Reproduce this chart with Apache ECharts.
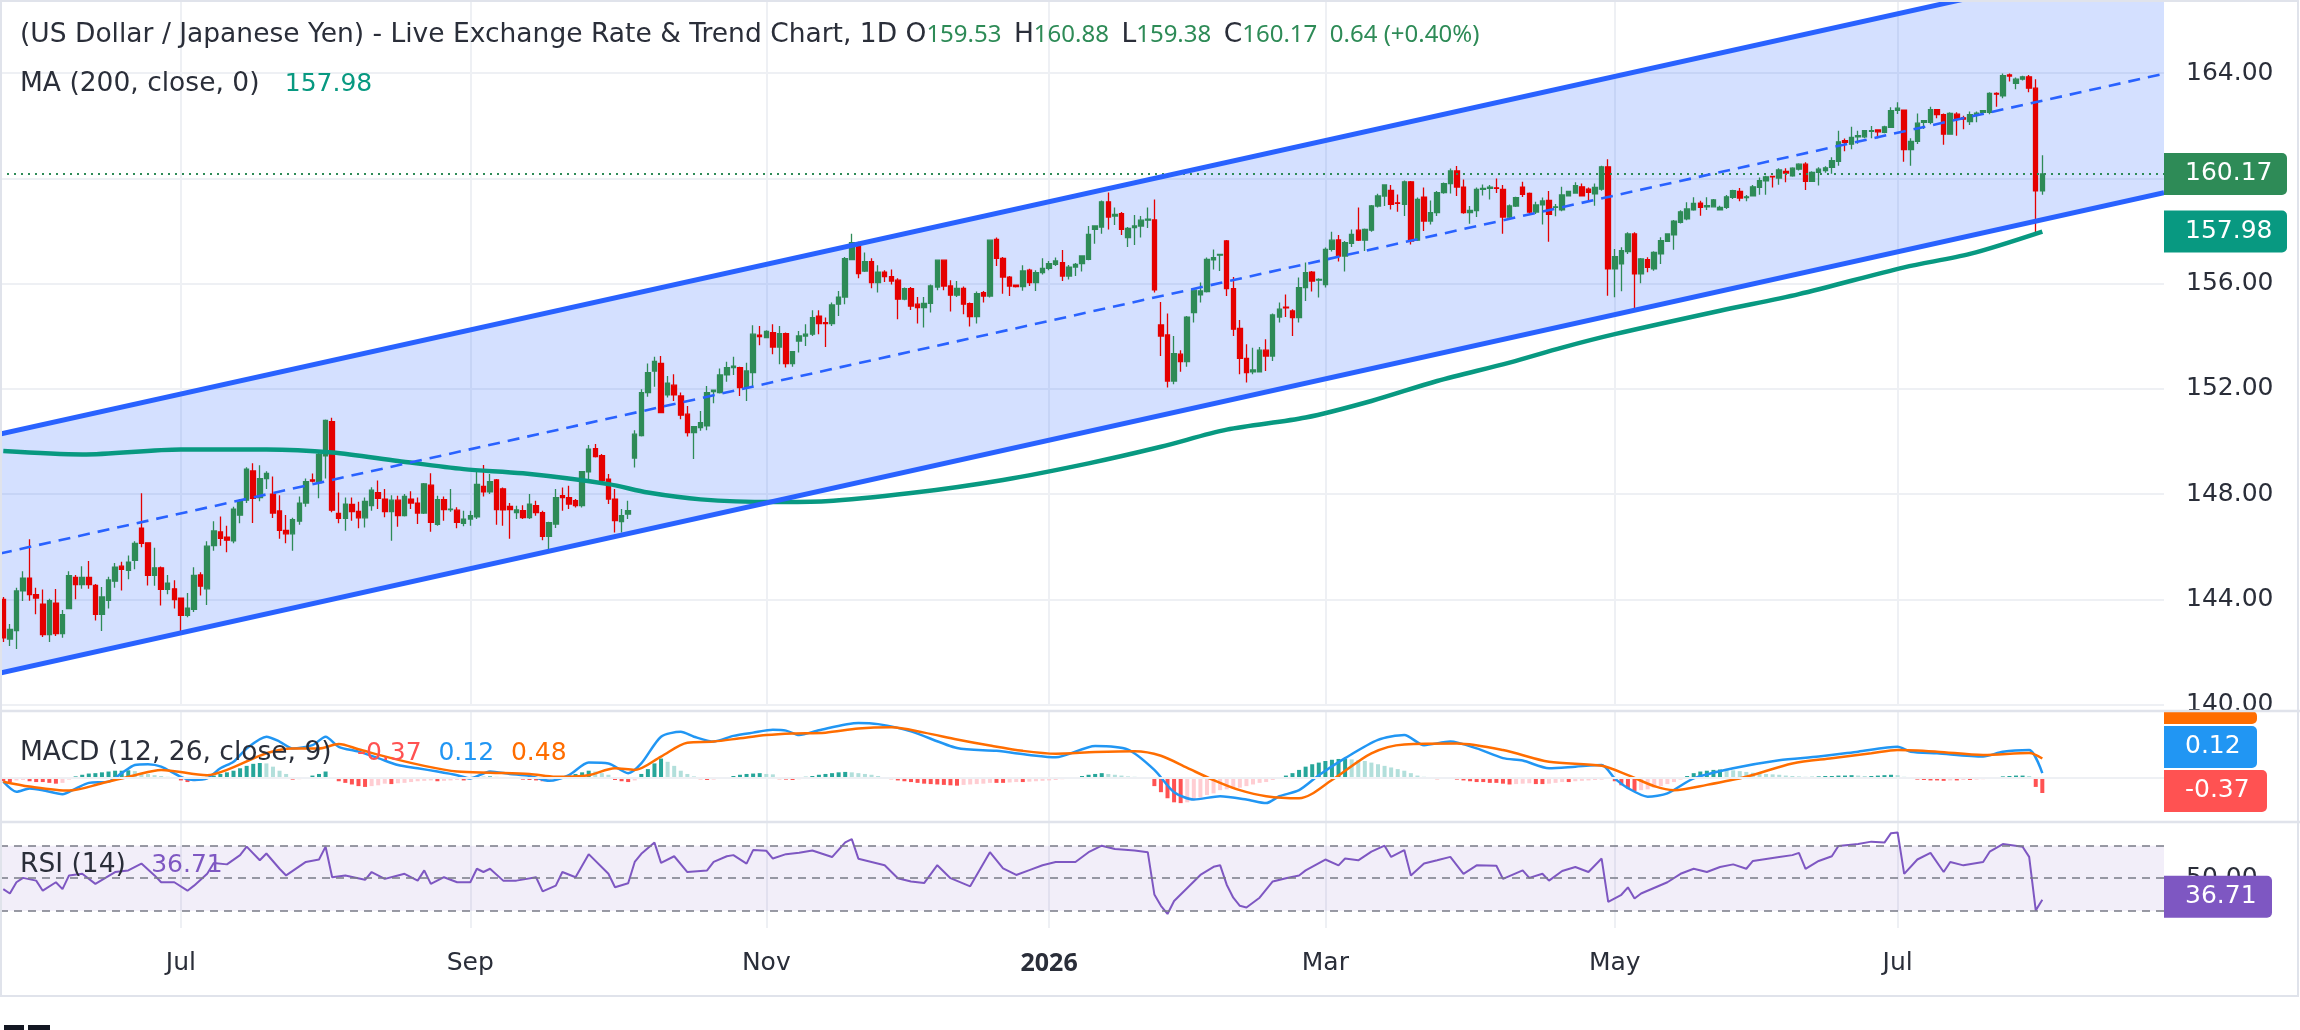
<!DOCTYPE html>
<html>
<head>
<meta charset="utf-8">
<title>USD/JPY 1D</title>
<script src="https://cdn.jsdelivr.net/npm/echarts@6/dist/echarts.min.js"></script>
<style>
html, body { margin: 0; padding: 0; background: #fff; }
#chart { width: 2300px; height: 1030px; }
</style>
</head>
<body>
<div id="chart"></div>
<script>
'use strict';

// ---- data ----
var startDate = '2025-05-23';      // first visible daily bar
var slotCount = 329;               // bars + empty space on the right
var monthNames = ['Jan', 'Feb', 'Mar', 'Apr', 'May', 'Jun', 'Jul', 'Aug', 'Sep', 'Oct', 'Nov', 'Dec'];

// daily candles: [open, close, low, high]
var candles = [
  [144.00,142.54,142.38,144.09],[142.49,142.86,142.23,143.06],[142.81,144.32,142.11,144.44],[144.32,144.81,143.94,145.07],
  [144.81,144.18,143.95,146.28],[144.18,144.05,143.43,144.44],[143.82,142.66,142.57,144.37],[142.66,143.95,142.38,144.02],
  [143.86,142.70,142.61,144.39],[142.70,143.42,142.54,143.60],[143.65,144.90,143.62,145.07],[144.83,144.56,144.00,144.93],
  [144.56,144.83,144.40,145.26],[144.83,144.56,144.40,145.46],[144.53,143.43,143.20,144.58],[143.43,144.09,142.80,144.47],
  [143.96,144.74,143.65,144.86],[144.69,145.22,144.44,145.38],[145.26,145.14,144.34,145.43],[145.10,145.41,144.76,145.67],
  [145.48,146.13,145.14,146.21],[146.71,146.13,145.98,148.03],[146.15,144.91,144.53,146.17],[144.91,145.20,144.52,145.96],
  [145.20,144.38,143.77,145.25],[144.38,144.62,144.19,144.93],[144.40,143.99,143.65,144.73],[144.05,143.39,142.67,144.05],
  [143.39,143.67,143.32,144.24],[143.62,144.91,143.52,145.22],[144.93,144.50,144.15,145.03],[144.40,146.02,143.79,146.21],
  [146.04,146.60,145.85,146.97],[146.56,146.32,146.04,147.15],[146.36,146.25,145.79,146.80],[146.22,147.43,146.13,147.52],
  [147.20,147.75,146.89,147.81],[147.77,148.95,147.66,149.02],[148.88,147.84,146.90,149.17],[147.87,148.59,147.73,149.10],
  [148.59,148.79,148.19,148.87],[148.00,147.28,147.09,148.67],[147.36,146.62,146.30,147.96],[146.62,146.49,146.13,147.21],
  [146.49,147.03,145.85,147.10],[146.97,147.66,146.84,147.91],[147.66,148.47,147.52,148.59],[148.54,148.49,148.44,148.78],
  [148.44,149.51,147.84,149.64],[149.45,150.80,148.59,150.84],[150.75,147.39,147.31,150.90],[147.27,147.08,146.89,148.06],
  [147.08,147.62,146.61,147.87],[147.61,147.34,146.99,147.87],[147.34,147.10,146.70,147.71],[147.10,147.72,146.73,147.87],
  [147.56,148.15,147.37,148.26],[148.06,147.84,147.43,148.52],[147.81,147.34,147.12,148.19],[147.34,147.77,146.23,147.96],
  [147.77,147.18,146.76,147.94],[147.18,147.91,147.15,148.00],[147.81,147.66,147.43,148.11],[147.66,147.28,146.86,147.87],
  [147.28,148.39,147.24,148.42],[148.34,146.93,146.57,148.79],[146.85,147.79,146.80,147.94],[147.79,147.41,146.99,147.91],
  [147.41,147.43,147.33,148.19],[147.39,146.93,146.70,147.50],[146.89,147.05,146.78,147.37],[147.05,147.18,146.80,147.37],
  [147.14,148.37,147.05,148.92],[148.29,148.09,147.91,149.11],[148.09,148.47,148.00,148.76],[148.54,147.41,146.84,148.57],
  [148.20,147.40,146.80,148.25],[147.53,147.41,146.30,147.66],
  // 78
  [147.30,147.40,147.05,147.56],[147.37,147.11,147.05,147.58],[147.11,147.62,147.05,148.00],[147.56,147.30,147.18,147.75],
  [147.30,146.39,146.25,147.37],[146.39,146.92,145.85,146.95],[146.86,147.87,146.71,148.19],[147.94,147.87,147.37,148.25],
  [147.87,147.62,147.43,148.32],[147.75,147.56,147.49,147.81],[147.56,148.85,147.49,148.88],[148.85,149.71,148.44,149.87],
  [149.73,149.43,149.39,149.90],[149.46,148.51,148.38,149.52],[148.57,147.81,147.62,148.76],[147.81,146.99,146.54,148.19],
  [146.96,147.18,146.54,147.43],[147.24,147.37,147.05,147.75],[149.37,150.28,149.01,150.43],[150.22,151.86,150.19,151.99],
  [151.86,152.62,151.70,152.96],[152.68,153.04,152.08,153.22],[152.97,151.10,151.10,153.25],[151.77,152.22,151.67,152.49],
  [152.14,151.77,151.54,152.56],[151.73,151.00,150.85,151.86],[151.04,150.34,150.19,151.35],[150.34,150.56,149.33,150.59],
  [150.53,150.72,150.41,151.16],[150.59,151.86,150.43,152.11],[151.90,151.95,151.45,151.97],[151.86,152.53,151.82,152.77],
  [152.53,152.81,152.27,153.03],[152.81,152.86,152.53,153.22],[152.81,152.05,151.73,152.84],[152.05,152.68,151.54,152.99],
  [152.62,154.08,152.11,154.42],[154.04,153.99,153.66,154.39],[153.95,154.18,153.95,154.23],[154.14,153.59,153.32,154.46],
  [153.59,154.10,152.94,154.39],[154.10,152.96,152.81,154.14],[152.96,153.41,152.84,153.44],[153.82,154.01,153.38,154.20],
  [154.01,154.08,153.63,154.46],[154.08,154.71,154.01,154.99],[154.76,154.48,154.08,154.99],[154.52,154.48,153.59,154.71],
  [154.48,155.19,154.39,155.28],[155.22,155.49,154.77,155.72],[155.49,156.95,155.22,157.01],[156.91,157.56,156.89,157.90],
  [157.56,156.38,156.20,157.59],[156.48,156.84,156.44,157.18],[156.84,156.04,155.82,156.96],[156.04,156.44,155.66,156.70],
  [156.44,156.27,156.06,156.51],[156.27,156.10,155.97,156.54],[156.13,155.41,154.65,156.20],[155.41,155.81,155.37,155.85],
  [155.81,155.15,155.00,155.87],[155.22,155.09,154.48,155.49],[155.09,155.25,154.33,155.49],[155.25,155.91,154.90,155.97],
  [155.87,156.89,155.75,156.92],[156.89,155.91,155.75,156.92],[155.91,155.56,154.94,156.13],[155.56,155.82,155.49,156.10],
  [155.82,155.22,154.84,155.89],[155.24,154.75,154.37,155.28],[154.75,155.62,154.48,155.70],[155.66,155.53,155.28,155.72],
  [155.53,157.65,155.47,157.68],[157.68,156.96,156.67,157.75],[156.96,156.25,155.62,157.01],[156.25,155.91,155.53,156.29],
  [155.94,155.89,155.85,155.97],[155.89,156.48,155.73,156.70],[156.51,156.04,155.91,156.57],
  // 157
  [156.04,156.42,155.72,156.51],[156.42,156.58,156.35,156.96],[156.58,156.76,156.51,156.86],[156.73,156.86,156.67,156.99],
  // 161
  [156.80,156.29,156.10,157.28],[156.29,156.63,156.16,156.71],[156.63,156.73,156.29,156.78],[156.76,157.05,156.46,157.05],
  [156.92,157.87,156.89,158.19],[158.06,158.19,157.52,158.22],[158.15,159.11,157.90,159.16],[159.11,158.53,158.06,159.46],
  [158.57,158.63,158.23,158.89],[158.66,158.06,157.85,158.72],[157.75,158.10,157.39,158.15],[158.13,158.19,157.47,158.61],
  [158.19,158.41,157.75,158.57],[158.41,158.45,158.11,158.89],[158.42,155.76,155.66,159.20],[154.43,154.01,153.25,155.30],
  [154.05,152.30,152.05,154.86],[152.30,153.34,152.18,154.01],[153.32,153.04,152.65,153.47],[153.04,154.73,152.84,154.77],
  [154.90,155.75,154.52,155.78],[155.57,155.72,155.28,156.04],[155.70,156.92,155.66,156.99],[156.90,156.99,156.54,157.30],
  [157.08,157.11,156.48,157.12],[157.62,155.81,155.53,157.66],[155.81,154.27,154.01,156.25],[154.30,153.16,152.56,154.62],
  [153.16,152.62,152.24,153.70],[152.65,152.72,152.56,153.56],[152.65,153.47,152.62,153.59],[153.47,153.25,152.68,153.89],
  [153.25,154.81,153.06,154.86],[154.73,155.03,154.52,155.28],[155.11,155.08,154.73,155.59],[154.96,154.71,154.01,155.03],
  [154.71,155.85,154.52,156.23],[155.85,156.42,155.34,156.80],[156.44,156.10,155.70,156.48],[156.13,156.16,155.47,156.20],
  [155.96,157.30,155.85,157.37],[157.30,157.65,157.22,157.97],[157.66,157.05,156.84,157.85],[157.05,157.56,156.46,157.62],
  [157.53,157.87,157.39,158.06],[158.03,157.65,157.62,158.89],[157.65,158.06,157.24,158.10],[158.03,158.95,157.97,158.99],
  [158.95,159.33,158.89,159.42],[159.33,159.75,158.95,159.77],[159.54,159.01,158.82,159.75],[159.07,159.05,158.73,159.39],
  [159.01,159.87,158.57,159.92],[159.87,157.62,157.49,159.90],[157.65,159.20,157.62,159.27],[159.29,158.38,158.00,159.65],
  [158.38,158.70,158.25,159.16],[158.70,159.46,158.57,159.52],[159.46,159.80,159.42,159.84],[159.80,160.28,159.43,160.38],
  [160.28,159.67,159.33,160.47],[159.67,158.70,158.66,159.96],[158.70,158.78,158.28,158.95],[158.78,159.58,158.53,159.65],
  [159.58,159.62,159.35,159.77],[159.62,159.67,159.20,159.75],[159.64,159.62,159.44,160.00],[159.58,158.53,157.90,159.75],
  [158.53,158.95,158.48,159.01],[158.95,159.27,158.91,159.30],[159.67,159.39,159.29,159.87],[159.43,158.72,158.61,159.46],
  [158.72,158.99,158.65,159.11],[158.99,159.14,158.25,159.27],[159.16,158.63,157.59,159.52],
  // 236
  [158.90,158.92,158.56,159.03],[158.80,159.37,158.75,159.68],[159.34,159.51,159.32,159.53],[159.44,159.72,159.44,159.85],
  [159.68,159.34,159.32,159.81],[159.59,159.47,159.13,159.65],[159.41,159.66,158.96,159.81],[159.59,160.44,159.53,160.48],
  [160.44,156.56,155.54,160.73],[156.56,157.03,155.48,157.32],[156.75,157.25,155.71,157.38],[157.22,157.89,157.13,157.95],
  [157.89,156.37,155.04,157.95],[156.37,156.94,156.01,156.97],[156.91,156.62,156.43,157.00],[156.56,157.19,156.49,157.23],
  [157.13,157.63,156.75,157.76],[157.61,157.89,157.58,157.91],[157.85,158.37,157.29,158.42],[158.33,158.73,158.29,158.79],
  [158.46,158.84,158.41,159.09],[158.80,159.05,158.77,159.28],[159.06,158.90,158.58,159.15],[158.92,158.96,158.80,159.28],
  [158.92,159.18,158.89,159.22],[158.80,158.90,158.80,158.96],[158.90,159.30,158.84,159.37],[159.28,159.53,159.22,159.57],
  [159.51,159.25,159.13,159.63],[159.27,159.30,159.13,159.37],[159.34,159.68,159.32,159.75],[159.66,159.91,159.38,160.03],
  [159.91,160.06,159.38,160.10],[160.08,160.06,159.65,160.10],[160.01,160.32,159.76,160.39],[160.27,160.20,159.85,160.39],
  [160.10,160.39,160.06,160.42],[160.35,160.54,160.30,160.58],[160.54,159.89,159.56,160.61],[159.89,160.23,159.86,160.27],
  [160.23,160.35,159.73,160.42],[160.30,160.40,160.21,160.46],[160.42,160.67,160.18,160.80],[160.65,161.39,160.48,161.81],
  [161.43,161.37,161.03,161.52],[161.30,161.56,161.11,161.96],[161.58,161.62,161.32,161.81],[161.58,161.81,161.53,161.84],
  [161.79,161.81,161.53,161.99],[161.84,161.77,161.53,161.84],[161.75,161.96,161.72,162.00],[161.94,162.57,161.92,162.70],
  [162.59,162.67,162.45,162.89],[162.59,161.09,160.63,162.62],[161.09,161.41,160.48,161.53],[161.41,162.10,161.31,162.47],
  [162.13,162.19,161.88,162.19],[162.13,162.61,162.06,162.72],[162.61,162.42,162.29,162.63],[162.42,161.68,161.28,162.47],
  [161.68,162.47,161.66,162.51],[162.44,162.25,161.62,162.51],[162.30,162.25,161.87,162.38],[162.16,162.42,162.03,162.54],
  [162.42,162.48,162.13,162.54],[162.51,162.57,162.44,162.59],[162.51,163.23,162.44,163.27],[163.23,163.20,162.72,163.27],
  [163.14,163.90,163.05,163.99],[163.93,163.89,163.68,163.99],[163.61,163.77,163.39,163.83],[163.77,163.86,163.72,163.90],
  [163.86,163.43,163.27,163.93],[163.43,159.53,157.95,163.77],[159.53,160.17,159.38,160.88]
];

// 200-day moving average, read at a number of bars
var maIdx = [0, 12, 27, 40, 50, 60, 70, 79, 92, 98, 106, 117, 125, 138, 152, 165, 176, 186, 198, 208, 218, 229, 237, 245, 261, 273, 289, 299, 310];
var maVal = [149.64, 149.51, 149.70, 149.70, 149.58, 149.26, 148.95, 148.79, 148.38, 148.06, 147.80, 147.70, 147.73, 148.04, 148.54, 149.17, 149.80, 150.45, 150.91, 151.54, 152.30, 153.00, 153.57, 154.08, 154.97, 155.60, 156.62, 157.13, 157.98];

// rising channel: lower / upper line at first and last slot
var chanIdx = [0, 328];
var chanLower = [141.23, 159.43];
var chanUpper = [150.31, 168.47];

// MACD (12, 26, 9)
var macdIdx = [0,2,4,6,9,11,13,16,18,20,22,24,27,29,31,33,35,37,40,42,44,47,49,51,54,57,60,63,66,69,71,74,77,80,83,86,89,92,95,97,100,103,105,108,111,114,117,119,121,124,130,133,138,145,151,156,160,166,171,175,178,181,185,189,192,194,197,200,204,209,213,216,220,224,228,231,235,239,243,245,247,250,253,257,263,270,276,282,288,290,294,301,304,308,310];
var macdVal = [-0.09,-0.34,-0.26,-0.30,-0.40,-0.26,-0.12,-0.09,0.12,0.32,0.34,0.28,0.03,-0.05,-0.01,0.24,0.40,0.73,1.02,0.90,0.73,0.81,1.02,0.77,0.65,0.49,0.32,0.24,0.16,0.07,-0.01,0.16,0.10,0.05,-0.07,0.07,0.38,0.36,0.12,0.36,1.02,1.14,1.02,0.90,1.04,1.12,1.19,1.17,1.06,1.18,1.36,1.33,1.15,0.74,0.67,0.57,0.51,0.79,0.70,0.20,-0.35,-0.53,-0.45,-0.53,-0.62,-0.45,-0.30,0.07,0.49,0.94,1.06,0.81,0.90,0.73,0.49,0.43,0.24,0.28,0.32,-0.01,-0.25,-0.46,-0.38,-0.01,0.24,0.44,0.53,0.65,0.77,0.65,0.61,0.53,0.65,0.69,0.12];
var signalIdx = [0,4,10,15,20,24,31,34,40,44,48,51,54,59,64,69,74,80,84,89,93,96,100,104,108,112,116,120,125,130,135,140,145,150,155,160,166,172,176,180,184,188,192,197,202,208,213,221,228,235,243,247,251,254,259,265,272,278,284,288,294,301,308,310];
var signalVal = [-0.09,-0.21,-0.31,-0.13,0.07,0.20,0.07,0.20,0.61,0.73,0.73,0.84,0.71,0.49,0.30,0.16,0.13,0.10,0.03,0.07,0.24,0.20,0.53,0.87,0.90,0.98,1.06,1.10,1.12,1.22,1.25,1.12,0.95,0.80,0.67,0.60,0.64,0.66,0.55,0.25,-0.05,-0.30,-0.45,-0.50,-0.05,0.61,0.83,0.85,0.69,0.40,0.30,0.07,-0.20,-0.30,-0.17,0.03,0.36,0.49,0.61,0.69,0.65,0.57,0.62,0.48];
var hist = [
  -0.08,-0.10,-0.06,-0.05,-0.08,-0.10,-0.10,-0.12,-0.14,-0.12,-0.04,
  0.04,0.08,0.11,0.12,0.14,0.16,0.18,0.18,0.19,0.17,0.12,0.10,
  0.07,0.05,0.03,0.01, -0.06,-0.10,-0.08,-0.05,
  0.03,0.06,0.10,0.14,0.18,0.24,0.30,0.35,0.37,0.36, 0.28,0.18,0.10,
  -0.04,-0.03,0.02, 0.06,0.10,0.16,0.02,
  -0.08,-0.12,-0.16,-0.20,-0.22,-0.20,-0.18,-0.14,-0.15,-0.13,-0.12,-0.10,
  -0.08,-0.07,-0.06,-0.08,-0.07,-0.06,-0.05,-0.06,-0.03,
  0.02,0.03,0.04,0.03,0.02,0.01, -0.02,-0.04,-0.05,-0.06,-0.08,-0.07,-0.04,
  0.02,0.06,0.10,0.14,0.18,0.16,0.12,0.08, -0.05,-0.08,-0.10,-0.06,
  0.10,0.22,0.36,0.48, 0.40,0.30,0.18,0.10, 0.04,-0.03,-0.05,-0.04,-0.02,0.02,
  0.05,0.08,0.10,0.11,0.12,0.10,0.09, -0.03,-0.04,-0.05,-0.03,
  0.03,0.05,0.08,0.10,0.12,0.14,0.15,0.14, 0.12,0.10,0.08,0.05,0.02,-0.03,-0.06,-0.08,
  -0.10,-0.12,-0.14,-0.15,-0.16,-0.17,-0.18,-0.19,-0.17,-0.16,-0.15,-0.14,
  -0.12,-0.12,-0.12,-0.11,-0.10,-0.10,-0.09,-0.08,-0.07,-0.06,
  -0.05,-0.03,-0.01,0.02,0.05,0.08,0.10,0.12,0.10,0.08,0.06,0.04,0.03,0.02,0.01,
  -0.20,-0.35,-0.50,-0.60,-0.62,-0.60,-0.55,-0.48,-0.42,-0.38,
  -0.30,-0.28,-0.26,-0.24,-0.20,-0.16,-0.12,-0.10,-0.05,0.00,0.06,0.12,
  0.20,0.28,0.34,0.38,0.42,0.45,0.47,0.48,0.46,0.44,0.42,0.38,0.34,0.30,0.26,0.22,0.18,0.12,
  0.06,0.03,0.02,-0.03,-0.02,0.02,-0.04,-0.06,-0.08,-0.10,-0.10,-0.12,-0.12,-0.14,-0.16,-0.15,-0.14,-0.13,-0.15,-0.15,-0.14,-0.12,-0.10,-0.10,-0.08,-0.07,-0.06,-0.05,-0.04,-0.02,
  -0.08,-0.18,-0.26,-0.32,-0.30,-0.28,-0.24,-0.20,-0.15,-0.10,-0.04,
  0.05,0.12,0.16,0.18,0.20,0.21,0.20,0.19,0.17,0.15,0.13,0.12,0.10,0.09,0.08,0.06,
  0.05,0.04,0.03,0.03,0.04,0.05,0.05,0.06,0.06,0.07,0.06,0.05,0.05,0.06,0.07,0.08,0.07,0.03,
  -0.02,-0.04,-0.05,-0.06,-0.06,-0.07,-0.06,-0.06,-0.05,-0.05,-0.04,-0.03,-0.02,
  0.02,0.04,0.05,0.06,0.06,0.05, -0.22,-0.37
];

// RSI (14)
var rsiIdx = [0,1,2,3,5,6,8,9,10,12,14,17,19,21,23,24,26,28,29,31,32,34,36,37,39,40,42,43,46,48,49,50,52,55,56,58,60,61,63,64,65,67,69,71,72,73,74,76,78,81,82,84,85,87,89,92,93,95,96,97,99,100,102,104,107,108,110,111,113,114,116,117,119,121,123,126,128,129,130,132,134,136,138,140,142,144,147,150,152,154,156,158,160,163,165,167,169,172,174,175,176,177,178,180,182,184,185,186,187,188,189,191,193,195,197,198,201,203,204,206,208,210,211,213,214,216,218,220,222,224,227,228,231,232,234,235,237,239,241,243,244,246,247,248,249,253,255,257,259,261,263,265,266,270,272,273,274,276,278,279,282,284,286,287,288,289,291,293,295,296,298,301,302,304,307,308,309,310];
var rsiVal = [43.3,40.6,47.5,50.2,48.5,42.3,47.5,43.3,51.7,52.7,46.5,53.8,54.8,59.0,51.7,47.5,47.5,42.3,45.4,52.7,59.4,58.5,64.2,69.4,61.0,65.2,55.8,51.7,60.0,61.5,69.4,50.6,51.7,49.0,53.8,49.6,51.7,52.7,48.5,54.8,46.5,50.6,47.5,47.5,55.8,53.8,55.8,48.5,48.5,50.6,41.9,45.4,53.8,50.6,64.8,52.7,44.4,46.9,60.0,65.0,71.9,59.4,63.5,53.8,54.8,60.0,63.5,64.2,59.0,67.3,66.9,62.1,64.8,65.6,67,63,72,74,62,60,58,50,48,47,58,50,45,66,56,52,55,58,60,60,66,70,68,67,66,40,33,28,36,44,52,57,58,46,38,33,32,38,48,50,51.7,54.8,61.5,57.9,62.1,61.0,66.3,70.0,63.1,67.3,51.7,59.0,61.0,63.1,52.7,57.9,57.7,49.6,54.8,50.2,52.7,48.5,54.4,56.9,53.8,62.1,35.4,39.8,44.4,37.5,40.6,47.5,52.7,55.8,53.8,56.9,58.5,55.8,60.6,63.1,64.2,65.6,55.8,60.6,63.5,69.8,71.0,72.5,71.9,77.7,78.1,52.7,61.5,65.6,53.8,60.0,57.9,60.0,66.3,71.0,69.4,63.1,30.2,36.71];

// legend / last values
var titleText = '(US Dollar / Japanese Yen) - Live Exchange Rate & Trend Chart, 1D';
var ohlcKeys = ['O', 'H', 'L', 'C'];
var ohlcVals = ['159.53', '160.88', '159.38', '160.17'];
var changeText = '0.64 (+0.40%)';
var lastClose = 160.17, maLast = 157.98;
var histLast = -0.37, macdLast = 0.12, signalLast = 0.48, rsiLast = 36.71;

// ---- colours / fonts ----
var UP = '#2e8b57', DOWN = '#e50000', MA_C = '#089981', CH = '#2962ff';
var MACD_C = '#2196f3', SIG_C = '#ff6d00', RSI_C = '#7e57c2';
var TXT = '#2a2e39', GRID_C = '#eef0f4';
var FONT = '"DejaVu Sans", sans-serif', NUMFONT = '"Noto Sans", sans-serif', AXFONT = '"DejaVu Sans", sans-serif';

// trading-day calendar (weekdays)
var dates = [];
(function () {
  var p = startDate.split('-');
  var d = new Date(Date.UTC(+p[0], +p[1] - 1, +p[2]));
  while (dates.length < slotCount) {
    var wd = d.getUTCDay();
    if (wd !== 0 && wd !== 6) dates.push(d.toISOString().slice(0, 10));
    d.setUTCDate(d.getUTCDate() + 1);
  }
})();
var monthStart = {};
for (var i = 1; i < dates.length; i++) {
  var m = +dates[i].slice(5, 7);
  if (m !== +dates[i - 1].slice(5, 7) && m % 2 === 1) monthStart[i] = true;
}
function isMonthStart(idx) { return !!monthStart[idx]; }

function pairs(idx, val) { return idx.map(function (k, j) { return [k, val[j]]; }); }

var histData = hist.map(function (v, j) {
  var prev = j > 0 ? hist[j - 1] : v;
  var c = v >= 0 ? (v >= prev ? '#26a69a' : '#b2dfdb') : (v <= prev ? '#ff5252' : '#ffcdd2');
  return { value: v, itemStyle: { color: c } };
});

// channel geometry in pixels, stretched to the plot edges
function extend(a, b, half) {
  var k = (b[1] - a[1]) / (b[0] - a[0]);
  return [[a[0] - half, a[1] - k * half], [b[0] + half, b[1] + k * half]];
}
function channelGeom(api) {
  var half = api.size([1, 0])[0] / 2;
  var lo = extend(api.coord([chanIdx[0], chanLower[0]]), api.coord([chanIdx[1], chanLower[1]]), half);
  var hi = extend(api.coord([chanIdx[0], chanUpper[0]]), api.coord([chanIdx[1], chanUpper[1]]), half);
  var mid = [[(lo[0][0] + hi[0][0]) / 2, (lo[0][1] + hi[0][1]) / 2], [(lo[1][0] + hi[1][0]) / 2, (lo[1][1] + hi[1][1]) / 2]];
  return { lo: lo, hi: hi, mid: mid };
}
function seg(s, width, dash) {
  return { type: 'line', shape: { x1: s[0][0], y1: s[0][1], x2: s[1][0], y2: s[1][1] },
    style: { stroke: CH, lineWidth: width, lineDash: dash || null, lineCap: 'butt' } };
}

// title / legends
var head = '{g|' + titleText + ' }';
ohlcKeys.forEach(function (k, j) { head += '{g|' + k + '}{v|' + ohlcVals[j] + '}  '; });
head += '{v|' + changeText + '}';
function rs(color, family, size) { return { color: color, fontSize: size, fontFamily: family }; }
var legendRich = {
  g: rs(TXT, FONT, 26.5),
  v: rs(UP, NUMFONT, 24),
  ma: rs(MA_C, FONT, 25),
  r: rs('#ff5252', FONT, 25),
  b: rs(MACD_C, FONT, 25),
  o: rs(SIG_C, FONT, 25),
  p: rs(RSI_C, FONT, 25)
};
function legend(text, top) {
  return { left: 20, top: top, padding: 0, text: text,
    textStyle: { rich: legendRich, fontSize: 24, fontFamily: NUMFONT, fontWeight: 'normal', color: TXT } };
}

var xBase = {
  type: 'category', data: dates, boundaryGap: true,
  axisLine: { show: false }, axisTick: { show: false, alignWithLabel: true },
  axisLabel: { show: false },
  splitLine: { show: true, alignWithLabel: true, lineStyle: { color: GRID_C, width: 2 } }
};
function xAxisFor(gi, withLabels) {
  var a = echarts.util.clone(xBase);
  a.gridIndex = gi;
  a.splitLine.interval = isMonthStart;
  if (withLabels) {
    a.axisLabel = {
      show: true, interval: isMonthStart, margin: 23, fontSize: 25, fontFamily: AXFONT, color: TXT,
      formatter: function (val) {
        var mm = +val.slice(5, 7);
        return mm === 1 ? '{y|' + val.slice(0, 4) + '}' : monthNames[mm - 1];
      },
      rich: { y: { fontSize: 25, fontFamily: NUMFONT, fontWeight: 'bold', color: TXT } }
    };
  }
  return a;
}

var chart = echarts.init(document.getElementById('chart'));
var option = {
  animation: false,
  backgroundColor: '#ffffff',
  title: [
    legend(head, 22),
    legend('{g|MA (200, close, 0)   }{ma|' + maLast.toFixed(2) + '}', 71),
    legend('{g|MACD (12, 26, close, 9)   }{r|' + histLast.toFixed(2) + '}{g|  }{b|' + macdLast.toFixed(2) + '}{g|  }{o|' + signalLast.toFixed(2) + '}', 740),
    legend('{g|RSI (14)   }{p|' + rsiLast.toFixed(2) + '}', 852)
  ],
  grid: [
    { left: 0, right: 136, top: 0, height: 704.6, outerBoundsMode: 'none' },
    { left: 0, right: 136, top: 711, height: 111, outerBoundsMode: 'none' },
    { left: 0, right: 136, top: 822, height: 106, outerBoundsMode: 'none' }
  ],
  xAxis: [xAxisFor(0, false), xAxisFor(1, false), xAxisFor(2, true)],
  yAxis: [
    { gridIndex: 0, type: 'value', position: 'right', min: 140, max: 166.78, interval: 4,
      axisLine: { show: false }, axisTick: { show: false },
      axisLabel: { showMaxLabel: false, margin: 22, fontSize: 25, fontFamily: AXFONT, color: TXT,
        formatter: function (v) { return v.toFixed(2); } },
      splitLine: { show: true, lineStyle: { color: GRID_C, width: 2 } } },
    { gridIndex: 1, type: 'value', position: 'right', min: -1.086, max: 1.654,
      axisLine: { show: false }, axisTick: { show: false }, axisLabel: { show: false }, splitLine: { show: false } },
    { gridIndex: 2, type: 'value', position: 'right', min: 19.35, max: 84.58,
      axisLine: { show: false }, axisTick: { show: false },
      axisLabel: { customValues: [50], margin: 22, fontSize: 25, fontFamily: AXFONT, color: TXT,
        formatter: function (v) { return Number(v).toFixed(2); } },
      splitLine: { show: false } }
  ],
  series: [
    { type: 'custom', name: 'channel fill', xAxisIndex: 0, yAxisIndex: 0, silent: true, clip: true, z: 1,
      data: [[chanIdx[0], chanLower[0]]],
      renderItem: function (params, api) {
        var g = channelGeom(api);
        return { type: 'polygon', shape: { points: [g.lo[0], g.lo[1], g.hi[1], g.hi[0]] },
          style: { fill: 'rgba(41,98,255,0.2)' } };
      } },
    { type: 'candlestick', name: 'USDJPY', xAxisIndex: 0, yAxisIndex: 0, z: 3, barWidth: 5,
      data: candles,
      itemStyle: { color: UP, color0: DOWN, borderColor: UP, borderColor0: DOWN, borderWidth: 1.3 },
      markLine: { silent: true, symbol: 'none', label: { show: false },
        lineStyle: { type: [2, 5], color: UP, width: 2 },
        data: [{ yAxis: lastClose }] } },
    { type: 'line', name: 'MA 200', xAxisIndex: 0, yAxisIndex: 0, z: 4,
      data: pairs(maIdx, maVal), smooth: 0.3, showSymbol: false, silent: true,
      lineStyle: { color: MA_C, width: 4.5 } },
    { type: 'custom', name: 'channel lines', xAxisIndex: 0, yAxisIndex: 0, silent: true, clip: true, z: 5,
      data: [[chanIdx[0], chanLower[0]]],
      renderItem: function (params, api) {
        var g = channelGeom(api);
        return { type: 'group', children: [seg(g.lo, 5), seg(g.hi, 5), seg(g.mid, 2.6, [12, 8])] };
      } },
    { type: 'bar', name: 'Histogram', xAxisIndex: 1, yAxisIndex: 1, barWidth: 4, data: histData, silent: true,
      markLine: { silent: true, symbol: 'none', label: { show: false },
        lineStyle: { type: 'solid', color: GRID_C, width: 2 }, data: [{ yAxis: 0 }] } },
    { type: 'line', name: 'MACD', xAxisIndex: 1, yAxisIndex: 1, data: pairs(macdIdx, macdVal),
      smooth: 0.25, showSymbol: false, silent: true, lineStyle: { color: MACD_C, width: 2.5 } },
    { type: 'line', name: 'Signal', xAxisIndex: 1, yAxisIndex: 1, data: pairs(signalIdx, signalVal),
      smooth: 0.3, showSymbol: false, silent: true, lineStyle: { color: SIG_C, width: 2.5 } },
    { type: 'line', name: 'RSI', xAxisIndex: 2, yAxisIndex: 2, data: pairs(rsiIdx, rsiVal),
      showSymbol: false, silent: true, lineStyle: { color: RSI_C, width: 2 },
      markArea: { silent: true, itemStyle: { color: 'rgba(126,87,194,0.1)' }, data: [[{ yAxis: 30 }, { yAxis: 70 }]] },
      markLine: { silent: true, symbol: 'none', label: { show: false },
        lineStyle: { type: [8, 6], color: '#787b86', width: 1.5 },
        data: [{ yAxis: 70 }, { yAxis: 50 }, { yAxis: 30 }] } }
  ]
};
chart.setOption(option);

// value tags on the price scale and pane separators
function tag(y, color, width, text, yTop) {
  var top = yTop == null ? y - 21 : yTop;
  var h = yTop == null ? 42 : y + 21 - yTop;
  var items = [{ type: 'rect', z: 110, shape: { x: 2164, y: top, width: width, height: h, r: [0, 5, 5, 0] }, style: { fill: color } }];
  if (text) {
    items.push({ type: 'text', z: 111, x: 2185, y: y, style: { text: text, fill: '#ffffff', font: '25px ' + AXFONT, verticalAlign: 'middle', align: 'left' } });
  }
  return items;
}
var yLast = chart.convertToPixel({ yAxisIndex: 0 }, lastClose);
var yMa = chart.convertToPixel({ yAxisIndex: 0 }, maLast);
var yHist = chart.convertToPixel({ yAxisIndex: 1 }, histLast) - 2;
var yRsi = chart.convertToPixel({ yAxisIndex: 2 }, rsiLast) - 3;

var g = [
  { type: 'rect', z: 105, shape: { x: 2164, y: 711, width: 136, height: 12 }, style: { fill: '#ffffff' } }
];
g = g.concat(tag(yLast, UP, 123, lastClose.toFixed(2)));
g = g.concat(tag(yMa, MA_C, 123, maLast.toFixed(2)));
g = g.concat(tag(yHist, '#ff5252', 103, histLast.toFixed(2)));
g = g.concat(tag(yHist - 44, MACD_C, 93, macdLast.toFixed(2)));
g = g.concat(tag(yHist - 88, SIG_C, 93, null, 711));
g = g.concat(tag(yRsi, RSI_C, 108, rsiLast.toFixed(2)));
g.push(
  { type: 'line', z: 120, shape: { x1: 0, y1: 711, x2: 2300, y2: 711 }, style: { stroke: '#e0e3eb', lineWidth: 2.5 } },
  { type: 'line', z: 120, shape: { x1: 0, y1: 822, x2: 2300, y2: 822 }, style: { stroke: '#e0e3eb', lineWidth: 2.5 } },
  { type: 'rect', z: 120, shape: { x: 1, y: 1, width: 2297, height: 995 }, style: { fill: null, stroke: '#e0e3eb', lineWidth: 2 } },
  { type: 'rect', z: 120, shape: { x: 4, y: 1025, width: 20, height: 5 }, style: { fill: '#131722' } },
  { type: 'rect', z: 120, shape: { x: 28, y: 1025, width: 22, height: 5 }, style: { fill: '#131722' } }
);
chart.setOption({ graphic: { elements: g } });
</script>
</body>
</html>
